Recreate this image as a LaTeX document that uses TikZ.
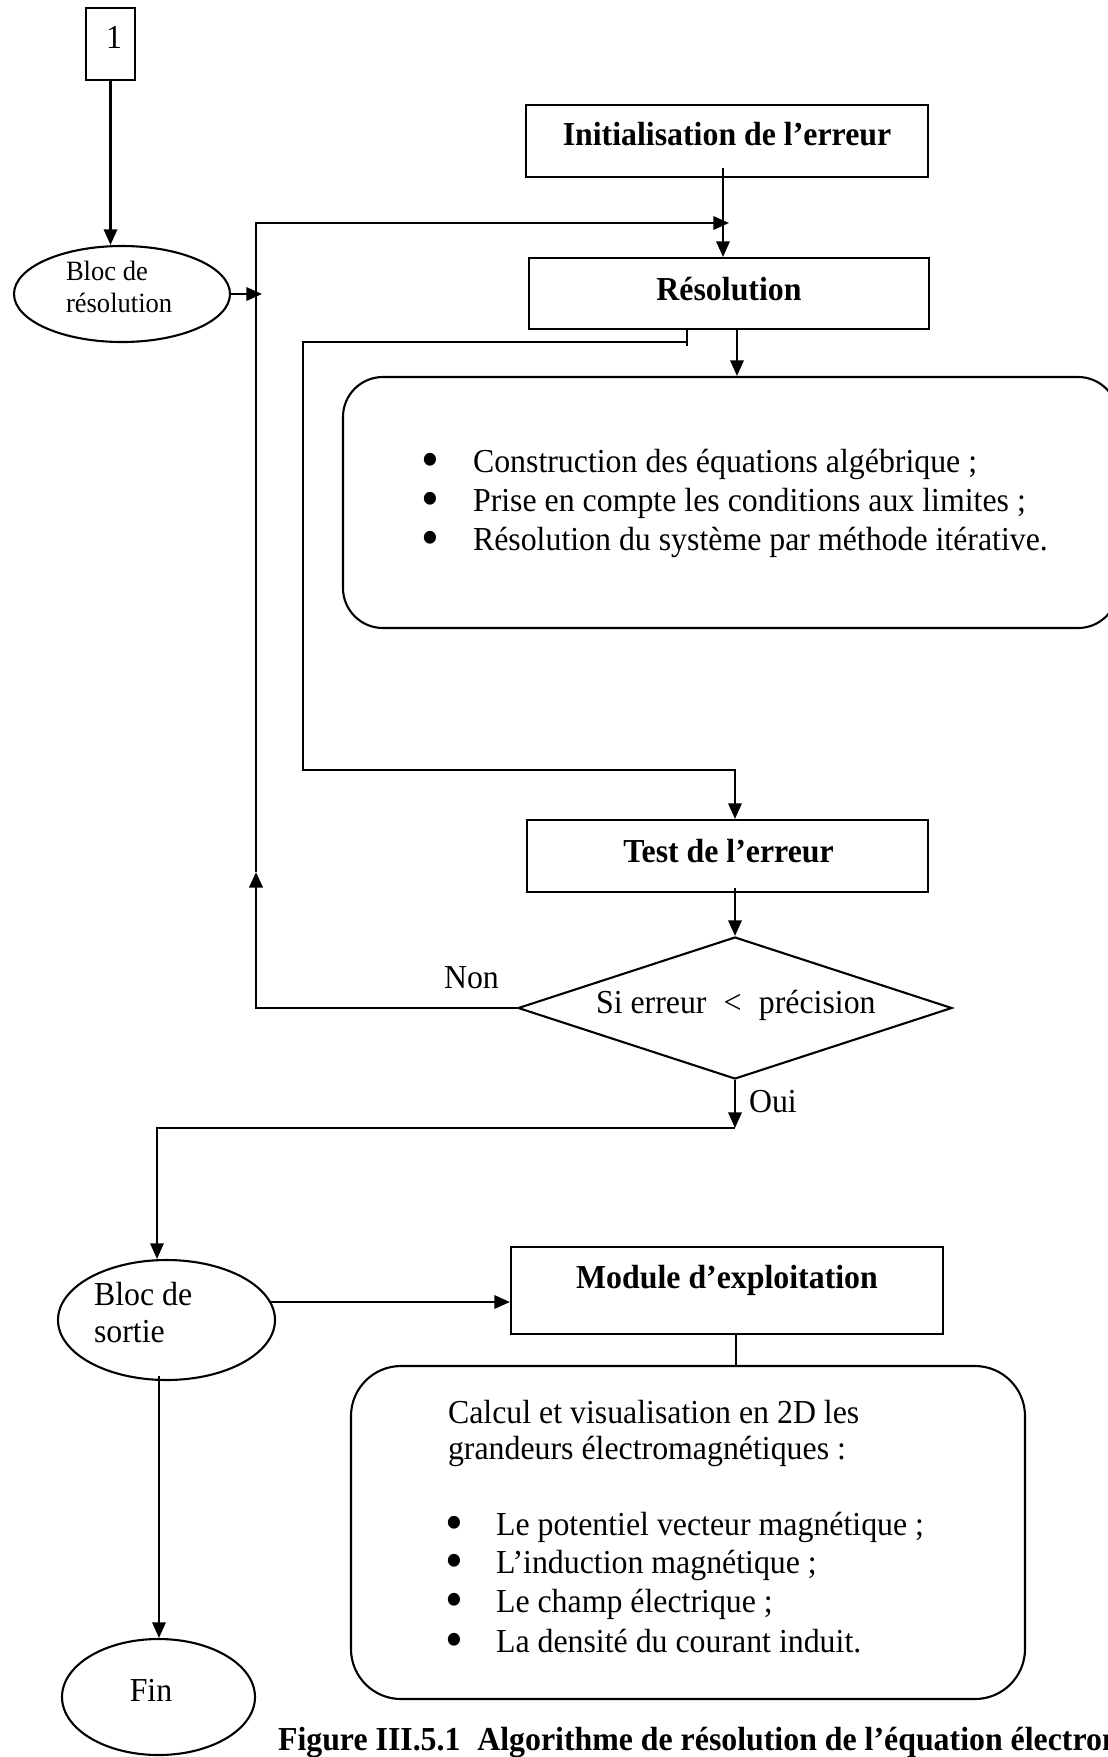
\documentclass[tikz,border=0pt]{standalone}
\usepackage{graphicx}
\usepackage{fontspec}
\setmainfont{Liberation Serif}[FakeStretch=0.95]
\usetikzlibrary{arrows.meta,shapes.geometric}
\newcommand{\bigbul}{\smash{\raisebox{-1.9pt}{\scalebox{1.6}{•}}}}
\begin{document}
\begin{tikzpicture}[x=0.358pt,y=-0.358pt,
  line width=0.75pt,
  arr/.style={-{Triangle[length=5.6pt,width=4.8pt]}},
  box/.style={draw,rectangle,inner sep=0pt},
  rbox/.style={draw,rectangle,rounded corners=#1,inner sep=0pt},
  oval/.style={draw,ellipse,inner sep=0pt},
  dmd/.style={draw,diamond,inner sep=0pt},
  txt/.style={inner sep=0pt,font=\fontsize{12}{14}\selectfont},
  btxt/.style={inner sep=0pt,font=\fontsize{12}{14}\selectfont\bfseries},
  stxt/.style={inner sep=0pt,font=\fontsize{10}{12}\selectfont}
]
\useasboundingbox (0,0) rectangle (1108,1757);
\clip (0,0) rectangle (1108,1757);

% shapes
\node[box,minimum width=17.54pt,minimum height=25.78pt] (b1) at (110.5,44) {};
\node[oval,minimum width=77.33pt,minimum height=34.37pt] (ell1) at (122,294) {};
\node[box,minimum width=143.9pt,minimum height=25.78pt] (init) at (727,141) {};
\node[box,minimum width=143.2pt,minimum height=25.42pt] (resol) at (729,293.5) {};
\node[rbox=14.3pt,minimum width=277.45pt,minimum height=89.86pt] (rbox1) at (730.5,502.5) {};
\node[box,minimum width=143.56pt,minimum height=25.78pt] (test) at (727.5,856) {};
\node[dmd,minimum width=155.37pt,minimum height=50.84pt] (dia) at (735,1008) {};
\node[oval,minimum width=77.69pt,minimum height=42.96pt] (ell2) at (166.5,1320) {};
\node[box,minimum width=154.66pt,minimum height=31.15pt] (module) at (727,1290.5) {};
\node[rbox=17.9pt,minimum width=241.29pt,minimum height=119.21pt] (rbox2) at (688,1532.5) {};
\node[oval,minimum width=69.09pt,minimum height=41.53pt] (fin) at (158.5,1697) {};

% texts
\node[txt,anchor=base] (one) at (114,48) {1};
\node[stxt,anchor=base west] (e1a) at (65,280) {Bloc de};
\node[stxt,anchor=base west] (e1b) at (65,312) {résolution};
\node[btxt,anchor=base] (initt) at (727,145) {Initialisation de l’erreur};
\node[btxt,anchor=base] (resolt) at (729,300) {Résolution};
\node[txt,anchor=base] (ba1) at (430,472) {\bigbul};
\node[txt,anchor=base] (ba2) at (430,511) {\bigbul};
\node[txt,anchor=base] (ba3) at (430,550) {\bigbul};
\node[txt,anchor=base west] (la1) at (472,472) {Construction des équations algébrique ;};
\node[txt,anchor=base west] (la2) at (472,511) {Prise en compte les conditions aux limites ;};
\node[txt,anchor=base west] (la3) at (472,550) {Résolution du système par méthode itérative.};
\node[btxt,anchor=base] (testt) at (728.5,862) {Test de l’erreur};
\node[txt,anchor=base west] (diat) at (595,1013) {Si erreur\hspace{6.1pt}<\hspace{6.2pt}précision};
\node[txt,anchor=base west] (non) at (443,988) {Non};
\node[txt,anchor=base west] (ouit) at (748,1112) {Oui};
\node[txt,anchor=base west] (e2a) at (93,1305) {Bloc de};
\node[txt,anchor=base west] (e2b) at (93,1342) {sortie};
\node[btxt,anchor=base] (modt) at (727,1288) {Module d’exploitation};
\node[txt,anchor=base west] (c1) at (447,1423) {Calcul et visualisation en 2D les};
\node[txt,anchor=base west] (c2) at (447,1459) {grandeurs électromagnétiques :};
\node[txt,anchor=base] (bb1) at (454,1535) {\bigbul};
\node[txt,anchor=base] (bb2) at (454,1573) {\bigbul};
\node[txt,anchor=base] (bb3) at (454,1612) {\bigbul};
\node[txt,anchor=base] (bb4) at (454,1652) {\bigbul};
\node[txt,anchor=base west] (lb1) at (495,1535) {Le potentiel vecteur magnétique ;};
\node[txt,anchor=base west] (lb2) at (495,1573) {L’induction magnétique ;};
\node[txt,anchor=base west] (lb3) at (495,1612) {Le champ électrique ;};
\node[txt,anchor=base west] (lb4) at (495,1652) {La densité du courant induit.};
\node[txt,anchor=base] (fint) at (151,1701) {Fin};
\node[btxt,anchor=base west] (cap) at (277,1750) {Figure III.5.1\hspace{6pt}Algorithme de résolution de l’équation électron};

% helper coordinates
\coordinate (tipA) at (262,294);
\coordinate (up) at (256,872);
\coordinate (tipB) at (729,223);
\coordinate (i1) at (723,168);
\coordinate (xa) at (737,0);
\coordinate (t1) at (687,342);
\coordinate (t1b) at (687,346);
\coordinate (t2) at (303,770);
\coordinate (xb) at (735,0);
\coordinate (t3) at (735,888);
\coordinate (oui) at (735,1128);
\coordinate (xc) at (157,0);
\coordinate (m0) at (271,1302);
\coordinate (xd) at (736,0);
\coordinate (f0) at (159,1376);

% connectors
\draw[arr] (b1.south) -- (b1.south |- ell1.north);
\draw[arr] (ell1.east) -- (tipA);
\draw[arr,line width=1.05pt] (dia.west) -| (up);
\draw[arr] (up) |- (tipB);
\draw[arr] (i1) -- (i1 |- resol.north);
\draw[arr] (resol.south -| xa) -- (rbox1.north -| xa);
\draw (resol.south -| t1) -- (t1b);
\draw[arr] (t1) -| (t2) -| (test.north -| xb);
\draw[arr] (t3) -- (t3 |- dia.north);
\draw[arr] (dia.south) -- (oui);
\draw[arr] (oui) -| (ell2.north -| xc);
\draw[arr] (m0) -- (module.west |- m0);
\draw (module.south -| xd) -- (rbox2.north -| xd);
\draw[arr] (f0) -- (f0 |- fin.north);
\end{tikzpicture}
\end{document}
